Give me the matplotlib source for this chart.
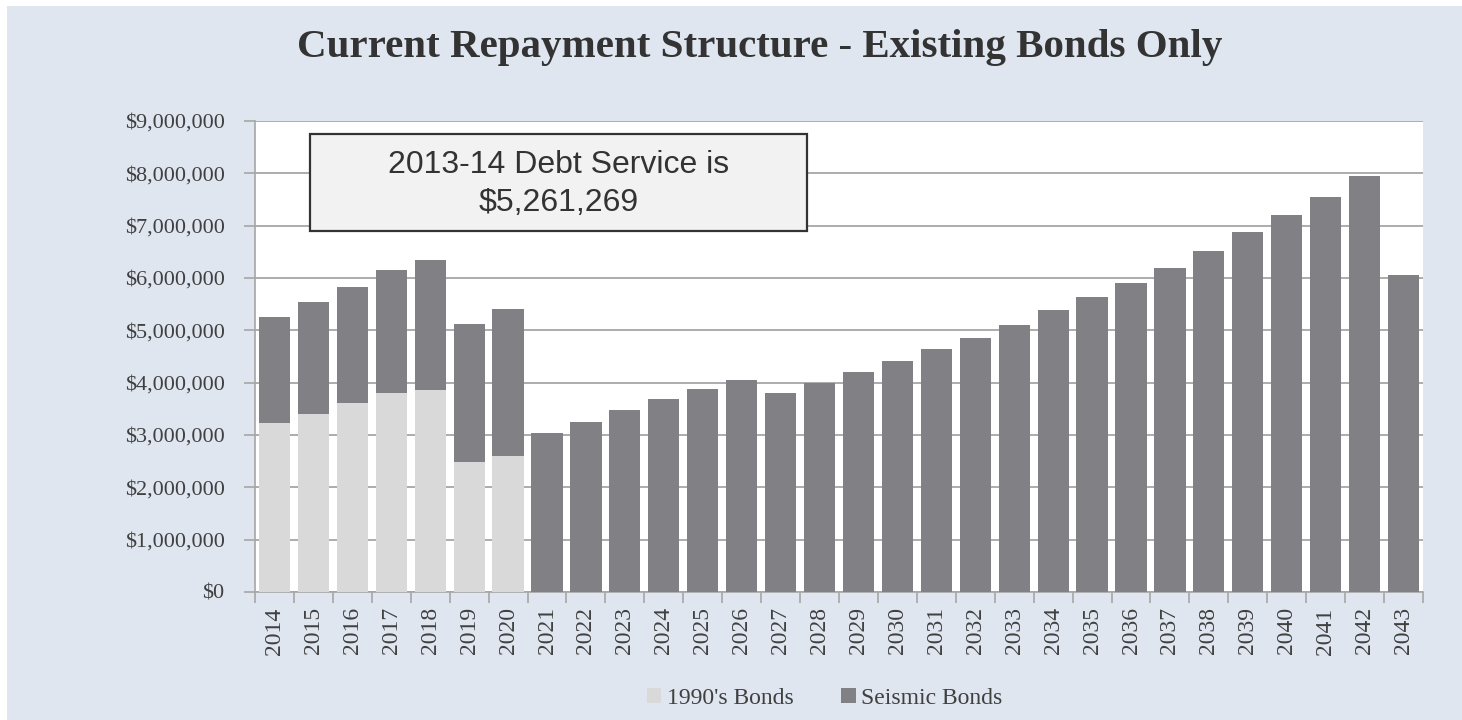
import matplotlib
matplotlib.use("Agg")
import matplotlib.pyplot as plt
from matplotlib.patches import Rectangle
from matplotlib.ticker import FuncFormatter, MultipleLocator
import numpy as np

years = [str(y) for y in range(2014, 2044)]
bonds_1990 = [3220000, 3410000, 3620000, 3810000, 3860000, 2490000, 2590000] + [0] * 23
total_service = [5261269, 5550000, 5830000, 6150000, 6340000, 5130000, 5400000,
                 3040000, 3240000, 3470000, 3680000, 3880000, 4050000, 3810000,
                 4000000, 4200000, 4420000, 4640000, 4860000, 5100000, 5380000,
                 5640000, 5910000, 6200000, 6520000, 6870000, 7210000, 7550000,
                 7940000, 6060000]
seismic = [t - b for t, b in zip(total_service, bonds_1990)]
series_names = ["1990's Bonds", "Seismic Bonds"]

BG = "#dfe6f0"
LIGHT = "#d9d9d9"
DARK = "#808085"
TXT = "#333333"
AX_TXT = "#404040"

fig = plt.figure(figsize=(14.62, 7.2), dpi=100)
fig.patch.set_facecolor("white")
fig.patches.append(Rectangle((7 / 1462, 0), 1 - 7 / 1462, 1 - 6 / 720,
                             transform=fig.transFigure, facecolor=BG,
                             edgecolor="none", zorder=-10))

ax = fig.add_axes([255 / 1462, 1 - 592 / 720, (1423 - 255) / 1462, (592 - 121) / 720])
ax.set_facecolor("white")
x = np.arange(len(years))
w = 0.8
ax.bar(x, bonds_1990, width=w, color=LIGHT, label=series_names[0], zorder=3)
ax.bar(x, seismic, width=w, bottom=bonds_1990, color=DARK, label=series_names[1], zorder=3)

ax.set_xlim(-0.5, len(years) - 0.5)
ax.set_ylim(0, 9000000)
ax.yaxis.set_major_locator(MultipleLocator(1000000))
ax.yaxis.set_major_formatter(FuncFormatter(lambda v, p: "${:,.0f}".format(v)))
ax.grid(axis="y", color="#a6a6a6", linewidth=1.3, zorder=0)
ax.set_axisbelow(True)

ax.set_xticks(x)
ax.set_xticklabels(years, rotation=90)
ax.set_xticks(np.arange(-0.5, len(years)), minor=True)
ax.tick_params(axis="x", which="major", length=0, pad=11)
ax.tick_params(axis="x", which="minor", length=8, color="#a6a6a6", width=1.2)
ax.tick_params(axis="y", length=8, color="#a6a6a6", width=1.2, pad=14)
for lab in ax.get_yticklabels():
    lab.set_fontfamily("Liberation Serif")
    lab.set_fontsize(16)
    lab.set_color(AX_TXT)
for lab in ax.get_xticklabels():
    lab.set_fontfamily("Liberation Serif")
    lab.set_fontsize(17)
    lab.set_color(AX_TXT)

for s in ["top", "right"]:
    ax.spines[s].set_visible(False)
for s in ["left", "bottom"]:
    ax.spines[s].set_color("#a6a6a6")
    ax.spines[s].set_linewidth(1.2)

ax.text((559 - 255) / 1168, (592 - 184) / 471, "2013-14 Debt Service is\n$5,261,269",
        transform=ax.transAxes, ha="center", va="center", fontsize=23,
        family="Liberation Sans", color=TXT, linespacing=1.35, zorder=6)
ax.add_patch(Rectangle(((310 - 255) / 1168, (592 - 231) / 471), (807 - 310) / 1168, (231 - 134) / 471,
                       transform=ax.transAxes, facecolor="#f2f2f2", edgecolor="#333333",
                       linewidth=1.6, zorder=5))

fig.text(760 / 1462, 1 - 47 / 720, "Current Repayment Structure - Existing Bonds Only",
         ha="center", va="center", fontsize=29.5, family="Liberation Serif",
         fontweight="bold", color=TXT)

leg = fig.legend(loc="center", bbox_to_anchor=(825 / 1462, 1 - 698 / 720), ncol=2,
                 frameon=False, prop={"family": "Liberation Serif", "size": 17},
                 handlelength=0.6, handleheight=0.6, columnspacing=2.0, handletextpad=0.25)
for t in leg.get_texts():
    t.set_color(AX_TXT)

fig.savefig("out.png", dpi=100, facecolor=fig.get_facecolor())
